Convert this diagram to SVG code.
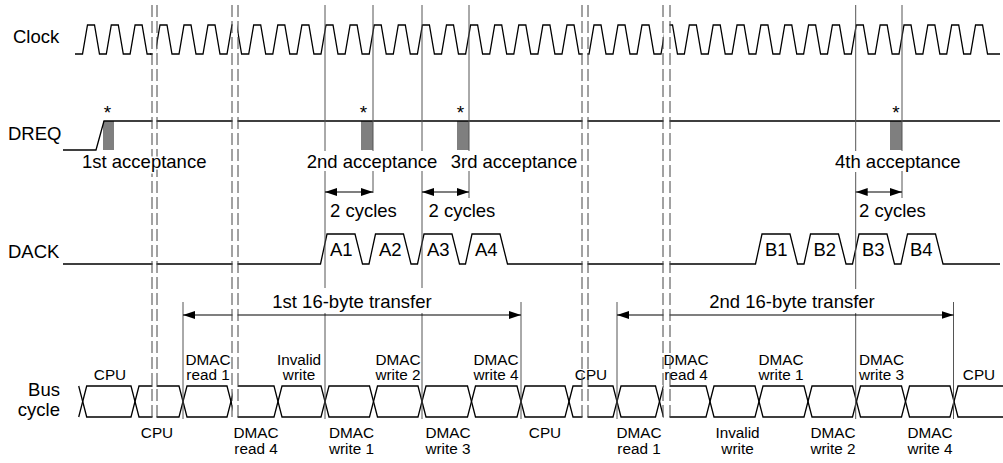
<svg xmlns="http://www.w3.org/2000/svg" width="1003" height="463" viewBox="0 0 1003 463">
<style>
text{font-family:"Liberation Sans",Arial,sans-serif;fill:#000}
.big{font-size:18.5px}
.bl{font-size:15.3px;text-anchor:middle}
.ast{font-size:19px;text-anchor:middle}
.halo{paint-order:stroke;stroke:#fff;stroke-width:3px}
.wave{fill:none;stroke:#000;stroke-width:1.3;stroke-linejoin:miter}
.cell{fill:none;stroke:#000;stroke-width:1.3}
.vl{stroke:#555;stroke-width:1}
.dash{stroke:#444;stroke-width:1;stroke-dasharray:12 4}
.arr{stroke:#000;stroke-width:1.2;marker-start:url(#ah);marker-end:url(#ah)}
.gray{fill:#7f7f7f}
</style>
<defs>
<marker id="ah" markerUnits="userSpaceOnUse" markerWidth="12" markerHeight="8" refX="12" refY="4" orient="auto-start-reverse"><path d="M0,0 L12,4 L0,8 z" fill="#000"/></marker>
</defs>
<rect width="1003" height="463" fill="#fff"/>

<g id="signal-labels">
<text class="big" x="13" y="43">Clock</text>
<text class="big" x="8" y="140">DREQ</text>
<text class="big" x="8" y="258">DACK</text>
<text class="big" x="60" y="396" text-anchor="end">Bus</text>
<text class="big" x="60" y="416" text-anchor="end">cycle</text>
</g>

<g id="clock">
<path class="wave" d="M75,54 H82.5 l5,-29 h7 l5,29 h6.8 l5,-29 h7 l5,29 h6.8 l5,-29 h7 l5,29 h6.8"/>
<path class="wave" d="M150,54 H155 l5,-29 h7 l5,29 h7 l5,-29 h7 l5,29 h7 l5,-29 h7 l5,29 h7 l5,-29 h3"/>
<path class="wave" d="M234,25 H236.6 l5,29 H248.7 l5,-29 h7 l5,29 h7.1 l5,-29 h7 l5,29 h7.1 l5,-29 h7 l5,29 h7.1 l5,-29 h7 l5,29 h7.1 l5,-29 h7 l5,29 h7.1 l5,-29 h7 l5,29 h7.1 l5,-29 h7 l5,29 h7.1 l5,-29 h7 l5,29 h7.1 l5,-29 h7 l5,29 h7.1 l5,-29 h7 l5,29 h7.1 l5,-29 h7 l5,29 h7.1 l5,-29 h7 l5,29 h7.1 l5,-29 h7 l5,29 h7.1 l5,-29 h7 l5,29 h7.1"/>
<path class="wave" d="M586,54 H589 l5,-29 h7 l5,29 h7 l5,-29 h7 l5,29 h7 l5,-29 h7 l5,29 h7 l5,-29 h2"/>
<path class="wave" d="M668,25 H672.5 l5,29 H684.35 l5,-29 h7 l5,29 h6.85 l5,-29 h7 l5,29 h6.85 l5,-29 h7 l5,29 h6.85 l5,-29 h7 l5,29 h6.85 l5,-29 h7 l5,29 h6.85 l5,-29 h7 l5,29 h6.85 l5,-29 h7 l5,29 h6.85 l5,-29 h7 l5,29 h6.85 l5,-29 h7 l5,29 h6.85 l5,-29 h7 l5,29 h6.85 l5,-29 h7 l5,29 h6.85 l5,-29 h7 l5,29 h6.85 l5,-29 h7 l5,29 h6.85 H1000"/>
</g>

<g id="dreq">
<rect class="gray" x="103" y="121" width="11" height="29"/>
<rect class="gray" x="361" y="121" width="12" height="29"/>
<rect class="gray" x="457" y="121" width="12" height="29"/>
<rect class="gray" x="890" y="121" width="12" height="29"/>
<path class="wave" d="M63,150 H96 L104,121 H1000"/>
<text class="ast" x="107.5" y="119">*</text>
<text class="ast" x="363.5" y="119">*</text>
<text class="ast" x="460.5" y="119">*</text>
<text class="ast" x="896" y="119">*</text>
<text class="big" x="306.7" y="168">2nd acceptance</text>
<text class="big" x="450.7" y="168">3rd acceptance</text>
<text class="big" x="835" y="168">4th acceptance</text>
</g>

<g id="dack">
<path class="wave" d="M63,264 H320.5 l6.5,-30 h28 l7.5,30 H369 l6.5,-30 h28 l7.5,30 H417.5 l6.5,-30 h28 l7.5,30 H465.5 l6.5,-30 h28 l7.5,30 H755.5 l6.5,-30 h28 l7.5,30 H804 l6.5,-30 h28 l7.5,30 H852.5 l6.5,-30 h28 l7.5,30 H901 l6.5,-30 h28 l7.5,30 H1000"/>
<text class="big" x="330" y="255.5">A1</text>
<text class="big" x="379" y="255.5">A2</text>
<text class="big" x="427" y="255.5">A3</text>
<text class="big" x="475" y="255.5">A4</text>
<text class="big" x="765" y="255.5">B1</text>
<text class="big" x="813.5" y="255.5">B2</text>
<text class="big" x="862" y="255.5">B3</text>
<text class="big" x="910" y="255.5">B4</text>
</g>

<g id="bus">
<polyline class="cell" points="78.7,386 82.7,401.5 78.7,417"/>
<polygon class="cell" points="82.7,401.5 86.7,386 131,386 135,401.5 131,417 86.7,417"/>
<polygon class="cell" points="135,401.5 139,386 179,386 183,401.5 179,417 139,417"/>
<polygon class="cell" points="183,401.5 187,386 227,386 231,401.5 227,417 187,417"/>
<polygon class="cell" points="231,401.5 235,386 274,386 278,401.5 274,417 235,417"/>
<polygon class="cell" points="278,401.5 282,386 321,386 325,401.5 321,417 282,417"/>
<polygon class="cell" points="325,401.5 329,386 369.5,386 373.5,401.5 369.5,417 329,417"/>
<polygon class="cell" points="373.5,401.5 377.5,386 418,386 422,401.5 418,417 377.5,417"/>
<polygon class="cell" points="422,401.5 426,386 467.5,386 471.5,401.5 467.5,417 426,417"/>
<polygon class="cell" points="471.5,401.5 475.5,386 517,386 521,401.5 517,417 475.5,417"/>
<polygon class="cell" points="521,401.5 525,386 565,386 569,401.5 565,417 525,417"/>
<polygon class="cell" points="569,401.5 573,386 613,386 617,401.5 613,417 573,417"/>
<polygon class="cell" points="617,401.5 621,386 655.5,386 659.5,401.5 655.5,417 621,417"/>
<polygon class="cell" points="659.5,401.5 663.5,386 706,386 710,401.5 706,417 663.5,417"/>
<polygon class="cell" points="710,401.5 714,386 755,386 759,401.5 755,417 714,417"/>
<polygon class="cell" points="759,401.5 763,386 804,386 808,401.5 804,417 763,417"/>
<polygon class="cell" points="808,401.5 812,386 852.5,386 856.5,401.5 852.5,417 812,417"/>
<polygon class="cell" points="856.5,401.5 860.5,386 901.5,386 905.5,401.5 901.5,417 860.5,417"/>
<polygon class="cell" points="905.5,401.5 909.5,386 950,386 954,401.5 950,417 909.5,417"/>
<polygon class="cell" points="954,401.5 958,386 1010,386 1014,401.5 1010,417 958,417"/>
</g>

<g id="connectors">
<line class="vl" x1="325" y1="5" x2="325" y2="151"/><line class="vl" x1="325" y1="171" x2="325" y2="288"/><line class="vl" x1="325" y1="313" x2="325" y2="419"/>
<line class="vl" x1="373" y1="5" x2="373" y2="151"/><line class="vl" x1="373" y1="171" x2="373" y2="193"/>
<line class="vl" x1="422" y1="5" x2="422" y2="151"/><line class="vl" x1="422" y1="171" x2="422" y2="288"/><line class="vl" x1="422" y1="313" x2="422" y2="419"/>
<line class="vl" x1="469" y1="5" x2="469" y2="151"/><line class="vl" x1="469" y1="171" x2="469" y2="198"/>
<line class="vl" x1="855.7" y1="5" x2="855.7" y2="151"/><line class="vl" x1="855.7" y1="172" x2="855.7" y2="289"/><line class="vl" x1="855.7" y1="313" x2="855.7" y2="419"/>
<line class="vl" x1="902" y1="5" x2="902" y2="151"/><line class="vl" x1="902" y1="171" x2="902" y2="198"/>
<line class="vl" x1="183" y1="302" x2="183" y2="419"/>
<line class="vl" x1="521" y1="302" x2="521" y2="419"/>
<line class="vl" x1="617" y1="302" x2="617" y2="419"/>
<line class="vl" x1="953.5" y1="302" x2="953.5" y2="419"/>
<line class="arr" x1="325" y1="192" x2="373" y2="192"/>
<line class="arr" x1="422" y1="192" x2="469" y2="192"/>
<line class="arr" x1="855.7" y1="192" x2="902" y2="192"/>
<line class="arr" x1="183" y1="315" x2="521" y2="315"/>
<line class="arr" x1="617" y1="315" x2="953.5" y2="315"/>
</g>

<g id="gaps" fill="#fff">
<rect x="152.5" y="0" width="4" height="420"/>
<rect x="232.5" y="0" width="5" height="420"/>
<rect x="582.5" y="0" width="5" height="420"/>
<rect x="663.5" y="0" width="6" height="420"/>
</g>

<g id="annotations">
<text class="big" x="330" y="217">2 cycles</text>
<text class="big" x="428.5" y="217">2 cycles</text>
<text class="big" x="859" y="217">2 cycles</text>
<text class="big" x="352" y="308" text-anchor="middle">1st 16-byte transfer</text>
<text class="big" x="792" y="308" text-anchor="middle">2nd 16-byte transfer</text>
</g>

<g id="bus-labels">
<text class="bl" x="110" y="380">CPU</text>
<text class="bl" x="208" y="365">DMAC</text><text class="bl" x="208" y="380">read 1</text>
<text class="bl" x="299" y="365">Invalid</text><text class="bl" x="299" y="380">write</text>
<text class="bl" x="398" y="365">DMAC</text><text class="bl" x="398" y="380">write 2</text>
<text class="bl" x="496" y="365">DMAC</text><text class="bl" x="496" y="380">write 4</text>
<text class="bl" x="591" y="380">CPU</text>
<text class="bl" x="686" y="365">DMAC</text><text class="bl" x="686" y="380">read 4</text>
<text class="bl" x="781" y="365">DMAC</text><text class="bl" x="781" y="380">write 1</text>
<text class="bl" x="881.5" y="365">DMAC</text><text class="bl" x="881.5" y="380">write 3</text>
<text class="bl" x="979" y="380">CPU</text>
<text class="bl" x="157" y="438">CPU</text>
<text class="bl" x="256" y="438">DMAC</text><text class="bl" x="256" y="453.5">read 4</text>
<text class="bl" x="351.5" y="438">DMAC</text><text class="bl" x="351.5" y="453.5">write 1</text>
<text class="bl" x="448" y="438">DMAC</text><text class="bl" x="448" y="453.5">write 3</text>
<text class="bl" x="545" y="438">CPU</text>
<text class="bl" x="639" y="438">DMAC</text><text class="bl" x="639" y="453.5">read 1</text>
<text class="bl" x="737.5" y="438">Invalid</text><text class="bl" x="737.5" y="453.5">write</text>
<text class="bl" x="833" y="438">DMAC</text><text class="bl" x="833" y="453.5">write 2</text>
<text class="bl" x="930" y="438">DMAC</text><text class="bl" x="930" y="453.5">write 4</text>
</g>

<g id="breaks">
<line class="dash" x1="152" y1="5" x2="152" y2="419"/>
<line class="dash" x1="157" y1="5" x2="157" y2="419"/>
<line class="dash" x1="232" y1="5" x2="232" y2="419"/>
<line class="dash" x1="238" y1="5" x2="238" y2="419"/>
<line class="dash" x1="582" y1="5" x2="582" y2="419"/>
<line class="dash" x1="588" y1="5" x2="588" y2="419"/>
<line class="dash" x1="663" y1="5" x2="663" y2="419"/>
<line class="dash" x1="670" y1="5" x2="670" y2="419"/>
</g>

<g id="label-over-breaks">
<text class="big halo" x="82" y="168">1st acceptance</text>
</g>
</svg>
